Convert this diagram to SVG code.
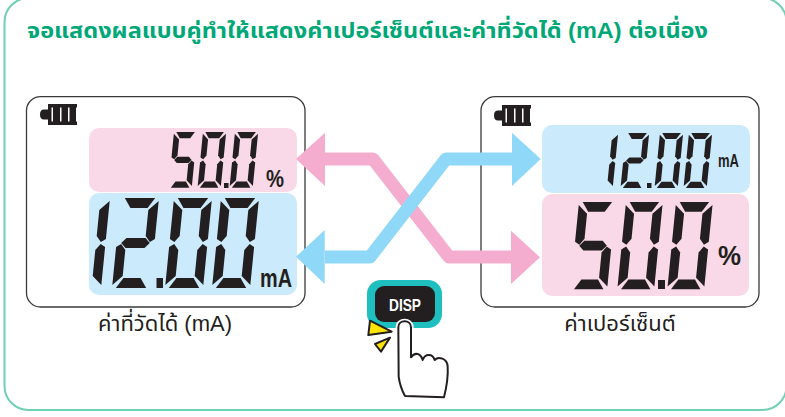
<svg xmlns="http://www.w3.org/2000/svg" width="785" height="417" viewBox="0 0 785 417">
<style>
.lcd{fill:#fff;stroke:#3a3a3a;stroke-width:1.3}
.pink{fill:#f9d9e8}.blue{fill:#cbeafb}
.seg{fill:#231f20}
.th{font-family:"Liberation Sans","Noto Sans Thai","Noto Sans",sans-serif;fill:#231f20;font-size:22px}
.unit{font-family:"Liberation Sans",sans-serif;font-weight:700;fill:#231f20}
.pa{fill:none;stroke:#f5adcf;stroke-width:13;stroke-linejoin:round}
.pf{fill:#f5adcf}
.ba{fill:none;stroke:#8fd8f8;stroke-width:13;stroke-linejoin:round}
.bf{fill:#8fd8f8}
</style>
<defs>
<g id="sa"><path d="M4,0H36L29,10H11Z"/></g>
<g id="sb"><path d="M40,3V41L35,44L30,38V12Z"/></g>
<g id="sc"><path d="M40,49V87L30,78V52L35,46Z"/></g>
<g id="sd"><path d="M11,80H29L36,90H4Z"/></g>
<g id="se"><path d="M0,49L5,46L10,52V78L0,87Z"/></g>
<g id="sf"><path d="M0,3L10,12V38L5,44L0,41Z"/></g>
<g id="sg"><path d="M5,45L10,40H30L35,45L30,50H10Z"/></g>
<g id="d0" transform="skewX(-6)"><use href="#sa"/><use href="#sb"/><use href="#sc"/><use href="#sd"/><use href="#se"/><use href="#sf"/></g>
<g id="d1" transform="skewX(-6)"><use href="#sb"/><use href="#sc"/></g>
<g id="d2" transform="skewX(-6)"><use href="#sa"/><use href="#sb"/><use href="#sg"/><use href="#se"/><use href="#sd"/></g>
<g id="d5" transform="skewX(-6)"><use href="#sa"/><use href="#sf"/><use href="#sg"/><use href="#sc"/><use href="#sd"/></g>
<g id="bat"><path d="M8,0H37V3.500H11.500V17.500H37V21H8ZM8,5.500V15.500H4Q0,15.500 0,10.500Q0,5.500 4,5.500Z" fill="#231f20"/><path d="M13,3H20V18H13ZM21.500,3H28V18H21.500ZM29.500,3H36V18H29.500Z" fill="#231f20"/></g>
</defs>

<rect id="panel" x="4.500" y="-2" width="782" height="412" rx="24" fill="#fff" stroke="#6fd0b5" stroke-width="2"/>
<text id="title" x="27" y="38" font-family="'Liberation Sans','Noto Sans Thai','Noto Sans',sans-serif" font-weight="700" font-size="21.500" fill="#00a878" textLength="681" lengthAdjust="spacingAndGlyphs">จอแสดงผลแบบคู่ทำให้แสดงค่าเปอร์เซ็นต์และค่าที่วัดได้ (mA) ต่อเนื่อง</text>

<g id="meter-left">
<rect class="lcd" x="26.500" y="96.700" width="278.500" height="210.300" rx="14"/>
<use href="#bat" x="40" y="104"/>
<rect class="pink" x="89" y="128" width="208" height="64" rx="10"/>
<rect class="blue" x="89" y="193" width="208" height="102" rx="10"/>
<g class="seg">
<use href="#d5" transform="translate(174,132) scale(.58,.62)"/>
<use href="#d0" transform="translate(203,132) scale(.58,.62)"/>
<use href="#d0" transform="translate(235,132) scale(.58,.62)"/>
<rect x="224" y="183" width="4.500" height="5"/>
<use href="#d1" transform="translate(72,198) scale(.95,1)"/>
<use href="#d2" transform="translate(121,198) scale(.95,1)"/>
<use href="#d0" transform="translate(174,198) scale(.95,1)"/>
<use href="#d0" transform="translate(221,198) scale(.95,1)"/>
<rect x="156.500" y="278" width="6.500" height="10"/>
</g>
<text class="unit" x="266" y="187" font-size="23" textLength="18" lengthAdjust="spacingAndGlyphs">%</text>
<text class="unit" x="260" y="287" font-size="25" textLength="32" lengthAdjust="spacingAndGlyphs">mA</text>
<text class="th" x="165" y="331" text-anchor="middle">ค่าที่วัดได้ (mA)</text>
</g>

<g id="meter-right">
<rect class="lcd" x="481" y="96.700" width="278" height="210.300" rx="14"/>
<use href="#bat" x="494" y="105"/>
<rect class="blue" x="542" y="125" width="208" height="68" rx="10"/>
<rect class="pink" x="542" y="194" width="207" height="102" rx="10"/>
<g class="seg">
<use href="#d1" transform="translate(595,133) scale(.58,.61)"/>
<use href="#d2" transform="translate(626,133) scale(.58,.61)"/>
<use href="#d0" transform="translate(660,133) scale(.58,.61)"/>
<use href="#d0" transform="translate(689,133) scale(.58,.61)"/>
<rect x="647" y="183" width="4.500" height="5"/>
<use href="#d5" transform="translate(579,202) scale(.92,.97)"/>
<use href="#d0" transform="translate(626,202) scale(.92,.97)"/>
<use href="#d0" transform="translate(676,202) scale(.92,.97)"/>
<rect x="658" y="280" width="7" height="9"/>
</g>
<text class="unit" x="718" y="167" font-size="18" textLength="21" lengthAdjust="spacingAndGlyphs">mA</text>
<text class="unit" x="718" y="265" font-size="27" textLength="23" lengthAdjust="spacingAndGlyphs">%</text>
<text class="th" x="620" y="331" text-anchor="middle">ค่าเปอร์เซ็นต์</text>
</g>

<g id="connectors">
<path class="pa" d="M325,159H373L449,257H512"/>
<path class="pf" d="M296,159L325,132.700V186ZM540,257.300L511,230.700V284Z"/>
<path class="ba" d="M325,257H370L446,159H513"/>
<path class="bf" d="M296,256.700L324.700,230V284ZM540.700,159L512,132.700V186Z"/>
</g>

<g id="disp-button">
<rect x="367" y="280" width="75" height="48" rx="14" fill="#1fbfbf"/>
<rect x="375" y="286" width="60" height="36" rx="9" fill="#231f20"/>
<text x="405" y="311" text-anchor="middle" font-family="'Liberation Sans',sans-serif" font-weight="700" font-size="17" fill="#fff" textLength="32" lengthAdjust="spacingAndGlyphs">DISP</text>
<g transform="translate(350,270) scale(.3333)" stroke-linejoin="round">
<path d="M165,378C152,355 148,335 146,320L145,172C145,148 183,148 183,172L183,262C195,245 212,250 218,270C225,250 248,250 254,270C265,258 292,265 293,290C295,320 290,350 282,382Z" fill="#fff" stroke="#fff" stroke-width="16"/>
<path d="M165,378C152,355 148,335 146,320L145,172C145,148 183,148 183,172L183,262C195,245 212,250 218,270C225,250 248,250 254,270C265,258 292,265 293,290C295,320 290,350 282,382Z" fill="#fff" stroke="#231f20" stroke-width="6"/>
<path d="M60,152L125,185L55,195Z" fill="#ffe600" stroke="#231f20" stroke-width="6"/>
<path d="M120,203L75,222L93,245Z" fill="#ffe600" stroke="#231f20" stroke-width="6"/>
</g>
</g>
</svg>
